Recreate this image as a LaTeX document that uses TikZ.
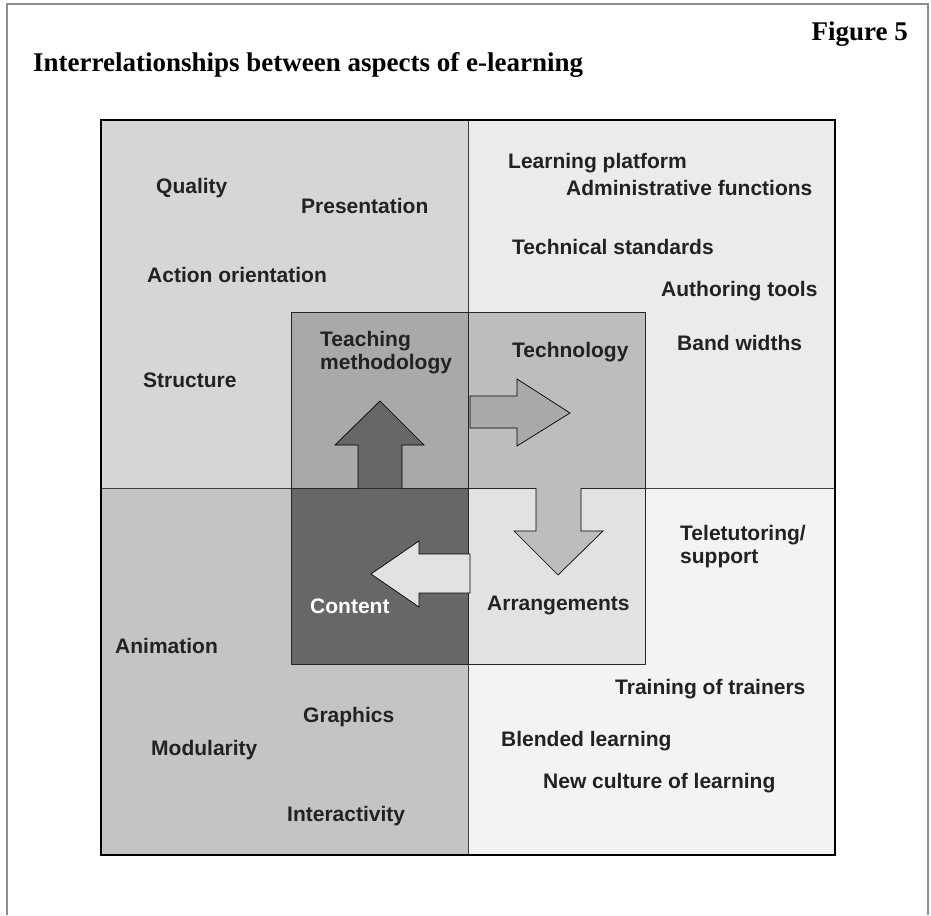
\documentclass[tikz,border=0pt]{standalone}
\usepackage{fontspec}
\setmainfont{Liberation Serif}
\setsansfont{Liberation Sans}
\usepackage{tikz}

\definecolor{quadTL}{HTML}{D6D6D6}
\definecolor{quadTR}{HTML}{EBEBEB}
\definecolor{quadBL}{HTML}{C4C4C4}
\definecolor{quadBR}{HTML}{F3F3F3}
\definecolor{teachgray}{HTML}{A9A9A9}
\definecolor{techgray}{HTML}{BDBDBD}
\definecolor{contentgray}{HTML}{676767}
\definecolor{arrangegray}{HTML}{E2E2E2}
\definecolor{txtgray}{HTML}{222222}

\begin{document}
\begin{tikzpicture}[
  x=1pt, y=-1pt,
  quad/.style  = {draw=black!75, line width=0.8pt},
  inbox/.style = {draw=black!85, line width=0.8pt, anchor=north west, inner sep=0pt,
                  minimum width=177pt, minimum height=176pt},
  bigarrow/.style = {draw=black, line width=0.7pt, line join=miter},
  lbl/.style   = {anchor=base west, inner sep=0pt, text=txtgray,
                  font=\sffamily\bfseries\fontsize{21}{23}\selectfont},
  lbltwo/.style = {lbl, anchor=north west, align=left},
  heading/.style = {inner sep=0pt, font=\rmfamily\bfseries\fontsize{27}{30}\selectfont}
]
  \useasboundingbox (0,0) rectangle (931,915);

  % page frame (open at the bottom)
  \draw[gray!110!black, line width=1.6pt] (7,915) -- (7,4) -- (928,4) -- (928,915);

  % headings
  \node[heading, anchor=base east] (fignum) at (908,41) {Figure 5};
  \node[heading, anchor=base west] (title) at (33,72) {Interrelationships between aspects of e-learning};

  % four quadrants
  \filldraw[quad, fill=quadTL] (101,120) rectangle (468,488);
  \filldraw[quad, fill=quadTR] (468,120) rectangle (835,488);
  \filldraw[quad, fill=quadBL] (101,488) rectangle (468,855);
  \filldraw[quad, fill=quadBR] (468,488) rectangle (835,855);
  \draw[black, line width=1.4pt] (101,120) rectangle (835,855);

  % inner squares
  \node[inbox, fill=teachgray]   (teach)   at (291,312) {};
  \node[inbox, fill=techgray]    (tech)    at (468,312) {};
  \node[inbox, fill=contentgray] (content) at (291,488) {};
  \node[inbox, fill=arrangegray] (arrange) at (468,488) {};

  % arrows between the inner squares
  \filldraw[bigarrow, fill=contentgray]
    (358,488) -- (358,445) -- (335,445) -- (380,401) -- (424,445) -- (402,445) -- (402,488);
  \filldraw[bigarrow, fill=teachgray]
    (470,396) -- (517,396) -- (517,379) -- (570,413) -- (517,446) -- (517,428) -- (470,428) -- cycle;
  \filldraw[bigarrow, fill=techgray]
    (536,488) -- (536,531) -- (514,531) -- (558,575) -- (603,531) -- (581,531) -- (581,488);
  \filldraw[bigarrow, fill=arrangegray]
    (470,554) -- (419,554) -- (419,541) -- (371,574) -- (419,607) -- (419,593) -- (470,593) -- cycle;

  % labels of the inner squares
  \node[lbltwo] (teachlbl) at (320,331) {Teaching\\methodology};
  \node[lbl] (techlbl) at (512,357) {Technology};
  \node[lbl, text=white] (contentlbl) at (310,613) {Content};
  \node[lbl] (arrangelbl) at (487,610) {Arrangements};

  % top left
  \node[lbl] (quality)   at (156,193) {Quality};
  \node[lbl] (present)   at (301,213) {Presentation};
  \node[lbl] (action)    at (147,282) {Action orientation};
  \node[lbl] (structure) at (143,387) {Structure};

  % top right
  \node[lbl] (platform)  at (508,168) {Learning platform};
  \node[lbl] (admin)     at (566,195) {Administrative functions};
  \node[lbl] (standards) at (512,254) {Technical standards};
  \node[lbl] (authoring) at (661,296) {Authoring tools};
  \node[lbl] (bandwidth) at (677,350) {Band widths};

  % bottom left
  \node[lbl] (animation) at (115,653) {Animation};
  \node[lbl] (graphics)  at (303,722) {Graphics};
  \node[lbl] (modular)   at (151,755) {Modularity};
  \node[lbl] (interact)  at (287,821) {Interactivity};

  % bottom right
  \node[lbltwo] (tutoring) at (680,525) {Teletutoring/\\support};
  \node[lbl] (trainers)  at (615,694) {Training of trainers};
  \node[lbl] (blended)   at (501,746) {Blended learning};
  \node[lbl] (culture)   at (543,788) {New culture of learning};
\end{tikzpicture}
\end{document}
